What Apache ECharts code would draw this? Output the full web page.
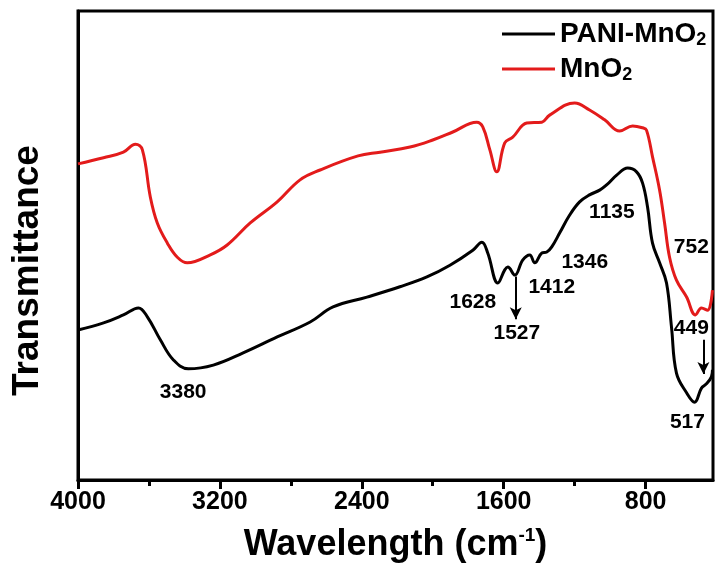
<!DOCTYPE html>
<html>
<head>
<meta charset="utf-8">
<script src="https://cdn.jsdelivr.net/npm/echarts@6/dist/echarts.min.js"></script>
<style>
  html, body { margin: 0; padding: 0; background: #fff; }
  #chart { width: 715px; height: 572px; }
</style>
</head>
<body>
<div id="chart"></div>
<script>
// FTIR spectra (transmittance in arbitrary units 0-100)
var manoWn = [4000, 3856, 3744, 3676, 3637, 3592, 3553, 3496, 3440, 3384, 3254, 3159, 3029, 2877, 2748, 2635, 2421, 2297, 2128, 2000, 1887, 1752, 1718, 1678, 1639, 1594, 1549, 1470, 1385, 1341, 1200, 1116, 1031, 946, 873, 817, 795, 761, 721, 693, 665, 626, 569, 519, 485, 451, 423];
var manoT = [67.4, 68.7, 69.9, 71.6, 70.4, 60.3, 54.8, 50.5, 47.5, 46.3, 48.0, 50.1, 54.8, 59.3, 64.0, 66.1, 69.1, 69.9, 71.0, 72.5, 74.2, 76.3, 75.3, 70.4, 65.7, 71.9, 73.1, 76.1, 76.3, 77.8, 80.4, 78.9, 76.8, 74.4, 75.5, 75.1, 74.6, 68.9, 61.8, 54.8, 47.5, 42.6, 39.0, 35.2, 36.7, 36.2, 40.5];

var paniWn = [4000, 3856, 3744, 3659, 3609, 3536, 3462, 3378, 3237, 3069, 2877, 2691, 2562, 2371, 2185, 2033, 1903, 1774, 1723, 1690, 1633, 1594, 1577, 1537, 1493, 1453, 1425, 1385, 1357, 1329, 1284, 1228, 1172, 1116, 1059, 1020, 963, 901, 851, 817, 789, 761, 721, 682, 654, 626, 569, 524, 485, 457, 429, 423];
var paniT = [32.0, 33.5, 35.2, 36.7, 34.8, 29.9, 25.6, 23.7, 24.5, 27.1, 30.5, 33.7, 36.9, 39.0, 41.2, 43.3, 45.8, 49.0, 50.7, 48.4, 42.0, 44.8, 45.4, 43.7, 46.9, 48.0, 46.3, 48.4, 48.6, 49.7, 52.7, 56.5, 59.3, 60.8, 61.8, 62.9, 65.0, 66.5, 65.7, 63.3, 58.2, 50.5, 46.3, 42.0, 32.6, 22.8, 18.6, 16.6, 19.6, 20.5, 22.0, 23.5];

// peak annotations: text and where it sits in data space
var peakText = ['3380', '1628', '1527', '1412', '1346', '1135', '752', '449', '517'];
var peakWn = [3407, 1774, 1526, 1329, 1143, 990, 542, 542, 564];
var peakT = [18.8, 38.0, 31.3, 41.2, 46.5, 57.1, 49.7, 32.4, 12.4];

var majorTicks = [4000, 3200, 2400, 1600, 800];
var minorTicks = [3600, 2800, 2000, 1200];

var FONT = "'Liberation Sans', Arial, sans-serif";

function pairs(xs, ys) {
    var out = [];
    for (var i = 0; i < xs.length; i++) out.push([xs[i], ys[i]]);
    return out;
}

var labelData = [];
for (var i = 0; i < peakText.length; i++) {
    labelData.push([peakWn[i], peakT[i], peakText[i]]);
}

var chart = echarts.init(document.getElementById('chart'));

var option = {
    animation: false,
    backgroundColor: '#fff',
    grid: {
        left: 78, right: 2, top: 11, bottom: 92,
        show: true, borderColor: '#000', borderWidth: 3
    },
    legend: {
        data: ['PANI-MnO2', 'MnO2'],
        orient: 'vertical',
        left: 497, top: 15,
        itemWidth: 53, itemHeight: 3, itemGap: 6,
        icon: 'rect',
        formatter: function (name) {
            return '{a|' + name.slice(0, -1) + '}{s|2}';
        },
        textStyle: {
            color: '#000',
            rich: {
                a: { fontFamily: FONT, fontSize: 28, fontWeight: 'bold', color: '#000', lineHeight: 30 },
                s: { fontFamily: FONT, fontSize: 18, fontWeight: 'bold', color: '#000', padding: [12, 0, 0, 0] }
            }
        }
    },
    xAxis: [{
        type: 'value',
        min: 420, max: 4000,
        inverse: true,
        name: 'Wavelength (cm{sup|-1})',
        nameLocation: 'middle',
        nameGap: 46,
        nameTextStyle: {
            fontFamily: FONT, fontSize: 36, fontWeight: 'bold', color: '#000',
            rich: {
                sup: { fontFamily: FONT, fontSize: 19, fontWeight: 'bold', color: '#000', padding: [0, 0, 20, 0] }
            }
        },
        axisLine: { show: true, lineStyle: { color: '#000', width: 3 } },
        axisTick: { show: true, inside: false, length: 9, customValues: majorTicks, lineStyle: { color: '#000', width: 3 } },
        axisLabel: {
            customValues: majorTicks, margin: 10,
            formatter: function (v) { return String(v); },
            fontFamily: FONT, fontSize: 25, fontWeight: 'bold', color: '#000'
        },
        splitLine: { show: false }
    }, {
        // minor ticks only
        type: 'value',
        min: 420, max: 4000,
        inverse: true,
        position: 'bottom',
        axisLine: { show: false },
        axisTick: { show: true, length: 6, customValues: minorTicks, lineStyle: { color: '#000', width: 3 } },
        axisLabel: { show: false },
        splitLine: { show: false }
    }],
    yAxis: {
        type: 'value',
        min: 0, max: 100,
        name: 'Transmittance',
        nameLocation: 'middle',
        nameGap: 32,
        nameTextStyle: {
            fontFamily: FONT, fontSize: 37, fontWeight: 'bold', color: '#000',
            padding: [0, 50, 0, 0]
        },
        axisLine: { show: true, lineStyle: { color: '#000', width: 3 } },
        axisTick: { show: false },
        axisLabel: { show: false },
        splitLine: { show: false }
    },
    series: [{
        name: 'PANI-MnO2',
        type: 'line',
        data: pairs(paniWn, paniT),
        showSymbol: false,
        smooth: 0.4,
        color: '#000',
        lineStyle: { color: '#000', width: 3 },
        markLine: {
            silent: true,
            symbol: ['none', 'arrow'],
            symbolSize: [9, 12],
            label: { show: false },
            lineStyle: { color: '#000', width: 2, type: 'solid' },
            data: [
                [{ coord: [1532, 43.4] }, { coord: [1532, 34.3] }],
                [{ coord: [474, 29.9] }, { coord: [474, 22.6] }]
            ]
        }
    }, {
        name: 'MnO2',
        type: 'line',
        data: pairs(manoWn, manoT),
        showSymbol: false,
        smooth: 0.4,
        color: '#e31b1b',
        lineStyle: { color: '#e31b1b', width: 3 }
    }, {
        name: 'peaks',
        type: 'scatter',
        data: labelData,
        symbolSize: 0,
        itemStyle: { color: '#000', opacity: 1 },
        silent: true,
        labelLayout: { hideOverlap: false },
        label: {
            show: true,
            position: 'inside',
            opacity: 1,
            formatter: function (p) { return p.data[2]; },
            fontFamily: FONT, fontSize: 21, fontWeight: 'bold',
            color: '#000', textBorderWidth: 0
        }
    }]
};

chart.setOption(option);
</script>
</body>
</html>
